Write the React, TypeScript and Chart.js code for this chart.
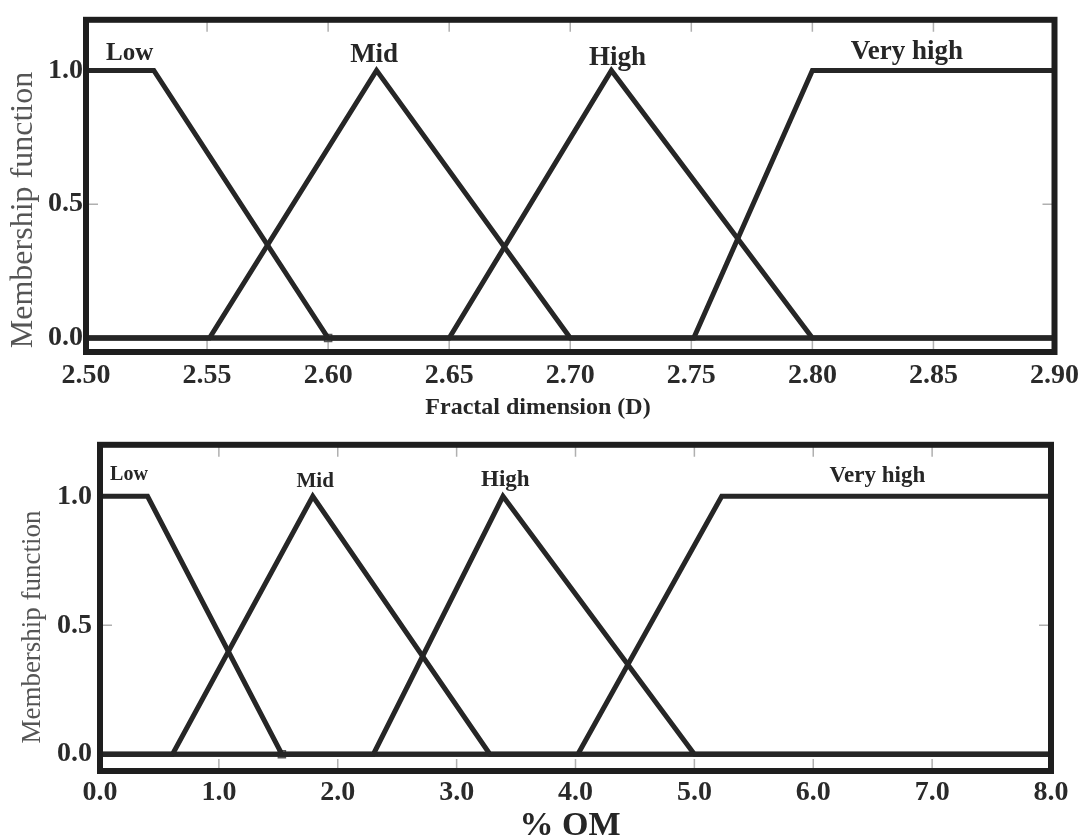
import React, { useEffect, useRef } from "react";
import { Chart, registerables } from "chart.js";

Chart.register(...registerables);

const SERIF = "'Liberation Serif', 'Times New Roman', serif";

// ---------- Top panel: fractal dimension (D) ----------
const dTicks = [2.5, 2.55, 2.6, 2.65, 2.7, 2.75, 2.8, 2.85, 2.9];
const dLowX = [2.5, 2.528, 2.6, 2.9];
const dLowY = [1, 1, 0, 0];
const dMidX = [2.5, 2.551, 2.62, 2.7, 2.9];
const dMidY = [0, 0, 1, 0, 0];
const dHighX = [2.5, 2.65, 2.717, 2.8, 2.9];
const dHighY = [0, 0, 1, 0, 0];
const dVeryHighX = [2.5, 2.751, 2.8, 2.9];
const dVeryHighY = [0, 0, 1, 1];
const dCursorX = [2.6];
const dCursorY = [0];
const dLabelNames = ["Low", "Mid", "High", "Very high"];
const dLabelX = [2.518, 2.619, 2.7195, 2.839];
const dLabelY = [1.037, 1.03, 1.022, 1.041];

// ---------- Bottom panel: % OM ----------
const omTicks = [0, 1, 2, 3, 4, 5, 6, 7, 8];
const omLowX = [0, 0.4, 1.53, 8];
const omLowY = [1, 1, 0, 0];
const omMidX = [0, 0.61, 1.79, 3.28, 8];
const omMidY = [0, 0, 1, 0, 0];
const omHighX = [0, 2.3, 3.39, 5.0, 8];
const omHighY = [0, 0, 1, 0, 0];
const omVeryHighX = [0, 4.02, 5.23, 8];
const omVeryHighY = [0, 0, 1, 1];
const omCursorX = [1.53];
const omCursorY = [0];
const omLabelNames = ["Low", "Mid", "High", "Very high"];
const omLabelX = [0.244, 1.81, 3.41, 6.54];
const omLabelY = [1.062, 1.035, 1.04, 1.054];

const yTicks = [0, 0.5, 1.0];

const pts = (xs: number[], ys: number[]) => xs.map((x, i) => ({ x, y: ys[i] }));

type PanelCfg = {
  top: number;
  height: number;
  padTop: number;
  padRight: number;
  yWidth: number;
  xHeight: number;
  xMin: number;
  xMax: number;
  yMin: number;
  yMax: number;
  xTicks: number[];
  xDigits: number;
  xTickPad: number;
  yTickPad: number;
  series: { x: number[]; y: number[] }[];
  cursor: { x: number[]; y: number[] };
  labelNames: string[];
  labelX: number[];
  labelY: number[];
  labelSizes: number[];
  xTitle: string;
  xTitleFont: number;
  xTitlePos: [number, number];
  yTitleFont: number;
  yTitlePos: [number, number];
};

const decor = {
  id: "decor",
  beforeDatasetsDraw(chart: any) {
    const { ctx, chartArea: a, scales } = chart;
    const L = 12;
    ctx.save();
    ctx.strokeStyle = "#b0b0b0";
    ctx.lineWidth = 1.5;
    scales.x.ticks.forEach((t: any) => {
      const px = scales.x.getPixelForValue(t.value);
      ctx.beginPath();
      ctx.moveTo(px, a.bottom);
      ctx.lineTo(px, a.bottom - L);
      ctx.moveTo(px, a.top);
      ctx.lineTo(px, a.top + L);
      ctx.stroke();
    });
    scales.y.ticks.forEach((t: any) => {
      const py = scales.y.getPixelForValue(t.value);
      ctx.beginPath();
      ctx.moveTo(a.left, py);
      ctx.lineTo(a.left + L, py);
      ctx.moveTo(a.right, py);
      ctx.lineTo(a.right - L, py);
      ctx.stroke();
    });
    ctx.restore();
  },
  afterDatasetsDraw(chart: any, _args: any, opts: any) {
    const { ctx, chartArea: a, scales } = chart;
    ctx.save();
    // frame
    ctx.strokeStyle = "#1e1e1e";
    ctx.lineWidth = 6;
    ctx.strokeRect(a.left, a.top, a.right - a.left, a.bottom - a.top);
    // category labels
    ctx.fillStyle = "#262626";
    ctx.textAlign = "center";
    ctx.textBaseline = "alphabetic";
    opts.names.forEach((n: string, i: number) => {
      ctx.font = `bold ${opts.sizes[i]}px ${SERIF}`;
      ctx.fillText(n, scales.x.getPixelForValue(opts.lx[i]), scales.y.getPixelForValue(opts.ly[i]));
    });
    // x title
    ctx.font = `bold ${opts.xTitleFont}px ${SERIF}`;
    ctx.fillStyle = "#262626";
    ctx.fillText(opts.xTitle, opts.xTitlePos[0], opts.xTitlePos[1]);
    // y title
    ctx.translate(opts.yTitlePos[0], opts.yTitlePos[1]);
    ctx.rotate(-Math.PI / 2);
    ctx.font = `${opts.yTitleFont}px ${SERIF}`;
    ctx.fillStyle = "#555";
    ctx.textBaseline = "middle";
    ctx.fillText("Membership function", 0, 0);
    ctx.restore();
  },
};

function Panel({ cfg }: { cfg: PanelCfg }) {
  const ref = useRef<HTMLCanvasElement | null>(null);
  useEffect(() => {
    if (!ref.current) return;
    const lineDs = cfg.series.map((s) => ({
      data: pts(s.x, s.y),
      borderColor: "#262626",
      borderWidth: 5,
      pointRadius: 0,
      fill: false,
      tension: 0,
      borderJoinStyle: "miter" as const,
      order: 1,
    }));
    const chart = new Chart(ref.current, {
      type: "line",
      data: {
        datasets: [
          ...lineDs,
          {
            data: pts(cfg.cursor.x, cfg.cursor.y),
            showLine: false,
            pointStyle: "rect",
            pointRadius: 5,
            pointBackgroundColor: "#ffffff",
            pointBorderColor: "#555",
            pointBorderWidth: 1.5,
            order: 5,
          } as any,
        ],
      },
      options: {
        animation: false,
        responsive: false,
        events: [],
        layout: {
          autoPadding: false,
          padding: { top: cfg.padTop, right: cfg.padRight, left: 0, bottom: 0 },
        } as any,
        plugins: {
          legend: { display: false },
          tooltip: { enabled: false },
          decor: {
            names: cfg.labelNames,
            lx: cfg.labelX,
            ly: cfg.labelY,
            sizes: cfg.labelSizes,
            xTitle: cfg.xTitle,
            xTitleFont: cfg.xTitleFont,
            xTitlePos: cfg.xTitlePos,
            yTitleFont: cfg.yTitleFont,
            yTitlePos: cfg.yTitlePos,
          },
        } as any,
        scales: {
          x: {
            type: "linear",
            min: cfg.xMin,
            max: cfg.xMax,
            afterBuildTicks: (s: any) => {
              s.ticks = cfg.xTicks.map((v) => ({ value: v }));
            },
            afterFit: (s: any) => {
              s.height = cfg.xHeight;
            },
            grid: { display: false, drawTicks: false },
            border: { display: false },
            ticks: {
              autoSkip: false,
              maxRotation: 0,
              padding: cfg.xTickPad,
              color: "#2a2a2a",
              font: { family: SERIF, size: 28, weight: "bold" },
              callback: (v: any) => Number(v).toFixed(cfg.xDigits),
            },
          },
          y: {
            type: "linear",
            min: cfg.yMin,
            max: cfg.yMax,
            afterBuildTicks: (s: any) => {
              s.ticks = yTicks.map((v) => ({ value: v }));
            },
            afterFit: (s: any) => {
              s.width = cfg.yWidth;
            },
            grid: { display: false, drawTicks: false },
            border: { display: false },
            ticks: {
              padding: cfg.yTickPad,
              color: "#2a2a2a",
              font: { family: SERIF, size: 28, weight: "bold" },
              callback: (v: any) => Number(v).toFixed(1),
            },
          },
        },
      },
      plugins: [decor],
    });
    return () => chart.destroy();
  }, [cfg]);
  return (
    <canvas
      ref={ref}
      width={1086}
      height={cfg.height}
      style={{ position: "absolute", left: 0, top: cfg.top, width: 1086, height: cfg.height, display: "block" }}
    />
  );
}

const topCfg: PanelCfg = {
  top: 0,
  height: 420,
  padTop: 17,
  padRight: 30,
  yWidth: 86,
  xHeight: 68,
  xMin: 2.5,
  xMax: 2.9,
  yMin: -0.052,
  yMax: 1.189,
  xTicks: dTicks,
  xDigits: 2,
  xTickPad: 7,
  yTickPad: 3,
  series: [
    { x: dLowX, y: dLowY },
    { x: dMidX, y: dMidY },
    { x: dHighX, y: dHighY },
    { x: dVeryHighX, y: dVeryHighY },
  ],
  cursor: { x: dCursorX, y: dCursorY },
  labelNames: dLabelNames,
  labelX: dLabelX,
  labelY: dLabelY,
  labelSizes: [25, 27, 27, 27],
  xTitle: "Fractal dimension (D)",
  xTitleFont: 24,
  xTitlePos: [538, 414],
  yTitleFont: 32,
  yTitlePos: [24, 210],
};

const bottomCfg: PanelCfg = {
  top: 420,
  height: 418,
  padTop: 22,
  padRight: 35,
  yWidth: 100,
  xHeight: 67,
  xMin: 0,
  xMax: 8,
  yMin: -0.065,
  yMax: 1.2,
  xTicks: omTicks,
  xDigits: 1,
  xTickPad: 5,
  yTickPad: 8,
  series: [
    { x: omLowX, y: omLowY },
    { x: omMidX, y: omMidY },
    { x: omHighX, y: omHighY },
    { x: omVeryHighX, y: omVeryHighY },
  ],
  cursor: { x: omCursorX, y: omCursorY },
  labelNames: omLabelNames,
  labelX: omLabelX,
  labelY: omLabelY,
  labelSizes: [20, 21, 23, 23],
  xTitle: "% OM",
  xTitleFont: 34,
  xTitlePos: [570, 415],
  yTitleFont: 27,
  yTitlePos: [33, 207],
};

export default function App() {
  return (
    <div style={{ position: "absolute", left: 0, top: 0, width: 1086, height: 838, background: "#fff" }}>
      <Panel cfg={topCfg} />
      <Panel cfg={bottomCfg} />
    </div>
  );
}
